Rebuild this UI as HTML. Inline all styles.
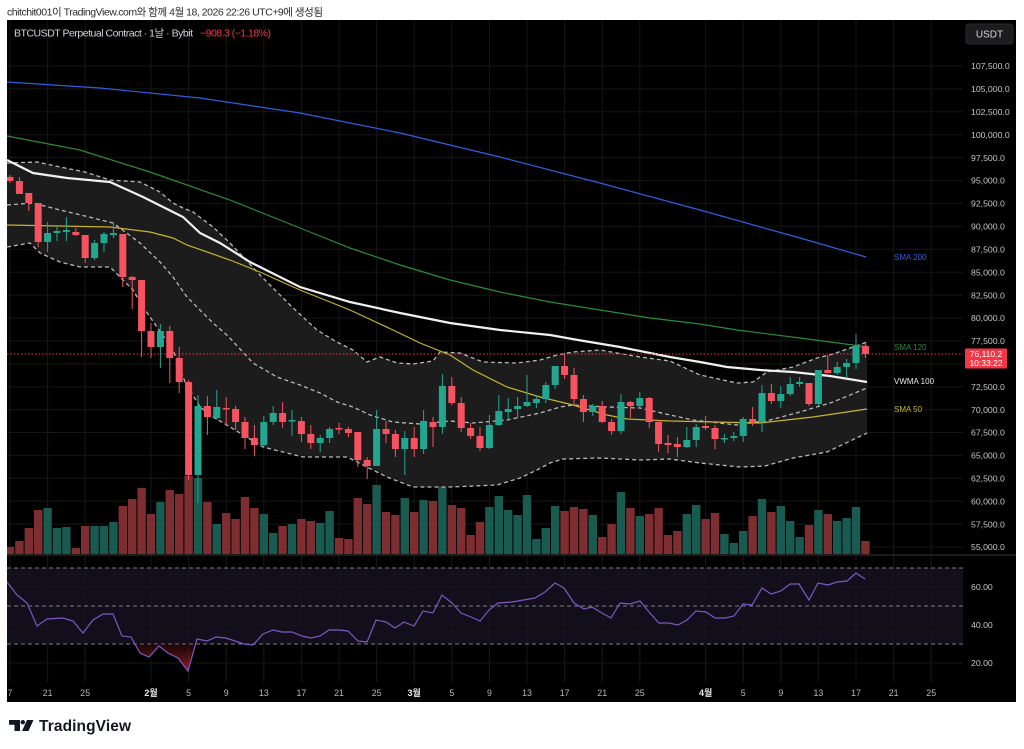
<!DOCTYPE html>
<html><head><meta charset="utf-8">
<style>
html,body{margin:0;padding:0;background:#fff;width:1024px;height:749px;overflow:hidden}
svg{display:block}
</style></head>
<body>
<svg width="1024" height="749" viewBox="0 0 1024 749" xmlns="http://www.w3.org/2000/svg" font-family="'Liberation Sans','Noto Sans CJK KR',sans-serif">
<defs>
<clipPath id="cm"><rect x="7" y="20" width="956" height="535"/></clipPath>
<clipPath id="cr"><rect x="7" y="556" width="956" height="126"/></clipPath>
<linearGradient id="rg" x1="0" y1="644" x2="0" y2="672" gradientUnits="userSpaceOnUse">
<stop offset="0" stop-color="#5a1414" stop-opacity="0.3"/><stop offset="1" stop-color="#b0202a" stop-opacity="0.9"/>
</linearGradient>
</defs>
<rect x="0" y="0" width="1024" height="749" fill="#fff"/>
<text x="7" y="15.5" font-size="10.5" fill="#2a2a2a" textLength="316">chitchit001이 TradingView.com와 함께 4월 18, 2026 22:26 UTC+9에 생성됨</text>

<rect x="7" y="20" width="1009" height="682" fill="#000"/>

<!-- grid -->
<g stroke="#161616" stroke-width="1">
<path d="M7 66H963M7 88.9H963M7 111.8H963M7 134.7H963M7 157.6H963M7 180.5H963M7 203.4H963M7 226.3H963M7 249.3H963M7 272.2H963M7 295.1H963M7 318H963M7 340.9H963M7 363.8H963M7 386.7H963M7 409.6H963M7 432.5H963M7 455.4H963M7 478.3H963M7 501.2H963M7 524.1H963M7 547H963"/>
<path d="M10 20V682M47.6 20V682M85.2 20V682M151 20V682M188.6 20V682M226.2 20V682M263.8 20V682M301.4 20V682M339 20V682M376.6 20V682M414.2 20V682M451.8 20V682M489.4 20V682M527 20V682M564.6 20V682M602.2 20V682M639.8 20V682M705.6 20V682M743.2 20V682M780.8 20V682M818.4 20V682M856 20V682M893.6 20V682M931.2 20V682"/>
</g>

<g clip-path="url(#cm)">
<!-- band fill -->
<polygon fill="#1c1c1c" points="7,163 37,162 60,167 85,172 110,180 140,182 160,192 173,203 183,208 193,212 213,227 230,243 260,275 290,305 317,330 335,341 353,350 367,362 380,357 397,363 413,364 433,361 440,352 460,353 483,362 517,363 540,360 557,355 573,352 600,350 617,353 640,357 670,361 700,375 737,383 753,382 767,372 793,367 817,358 833,354 853,347 867,342 867,433 827,452 793,458 765,466 740,467 700,463 670,459 640,460 600,458 563,459 550,463 537,470 520,478 497,485 450,487 413,487 387,477 367,467 347,457 303,457 263,447 230,427 213,417 200,407 185,382 173,350 150,317 143,307 133,290 110,267 80,267 60,262 40,253 30,243 7,247"/>

<!-- volume red -->
<g fill="#7e2e31">
<rect x="5.8" y="547" width="8.4" height="7"/><rect x="15.2" y="541" width="8.4" height="13"/><rect x="24.6" y="528" width="8.4" height="26"/><rect x="34" y="510" width="8.4" height="44"/><rect x="71.6" y="548" width="8.4" height="6"/><rect x="81" y="526" width="8.4" height="28"/><rect x="118.6" y="506" width="8.4" height="48"/><rect x="128" y="499" width="8.4" height="55"/><rect x="137.4" y="488" width="8.4" height="66"/><rect x="146.8" y="514" width="8.4" height="40"/><rect x="165.6" y="490" width="8.4" height="64"/><rect x="175" y="494" width="8.4" height="60"/><rect x="184.4" y="476" width="8.4" height="78"/><rect x="203.2" y="502" width="8.4" height="52"/><rect x="222" y="513" width="8.4" height="41"/><rect x="231.4" y="519" width="8.4" height="35"/><rect x="240.8" y="497" width="8.4" height="57"/><rect x="250.2" y="508" width="8.4" height="46"/><rect x="278.4" y="526" width="8.4" height="28"/><rect x="297.2" y="519" width="8.4" height="35"/><rect x="306.6" y="521" width="8.4" height="33"/><rect x="334.8" y="538" width="8.4" height="16"/><rect x="344.2" y="539" width="8.4" height="15"/><rect x="353.6" y="498" width="8.4" height="56"/><rect x="363" y="504" width="8.4" height="50"/><rect x="381.8" y="512" width="8.4" height="42"/><rect x="391.2" y="515" width="8.4" height="39"/><rect x="410" y="512" width="8.4" height="42"/><rect x="428.8" y="501" width="8.4" height="53"/><rect x="447.6" y="505" width="8.4" height="49"/><rect x="457" y="508" width="8.4" height="46"/><rect x="466.4" y="535" width="8.4" height="19"/><rect x="475.8" y="522" width="8.4" height="32"/><rect x="560.4" y="511" width="8.4" height="43"/><rect x="569.8" y="507" width="8.4" height="47"/><rect x="579.2" y="509" width="8.4" height="45"/><rect x="598" y="537" width="8.4" height="17"/><rect x="607.4" y="524" width="8.4" height="30"/><rect x="626.2" y="508" width="8.4" height="46"/><rect x="645" y="514" width="8.4" height="40"/><rect x="654.4" y="508" width="8.4" height="46"/><rect x="663.8" y="535" width="8.4" height="19"/><rect x="673.2" y="531" width="8.4" height="23"/><rect x="701.4" y="519" width="8.4" height="35"/><rect x="710.8" y="513" width="8.4" height="41"/><rect x="748.4" y="516" width="8.4" height="38"/><rect x="767.2" y="512" width="8.4" height="42"/><rect x="804.8" y="525" width="8.4" height="29"/><rect x="823.6" y="514" width="8.4" height="40"/><rect x="861.2" y="541" width="8.4" height="13"/>
</g>
<!-- volume green -->
<g fill="#195a51">
<rect x="43.4" y="508" width="8.4" height="46"/><rect x="52.8" y="528" width="8.4" height="26"/><rect x="62.2" y="527" width="8.4" height="27"/><rect x="90.4" y="526" width="8.4" height="28"/><rect x="99.8" y="526" width="8.4" height="28"/><rect x="109.2" y="522" width="8.4" height="32"/><rect x="156.2" y="502" width="8.4" height="52"/><rect x="193.8" y="478" width="8.4" height="76"/><rect x="212.6" y="524" width="8.4" height="30"/><rect x="259.6" y="514" width="8.4" height="40"/><rect x="269" y="533" width="8.4" height="21"/><rect x="287.8" y="524" width="8.4" height="30"/><rect x="316" y="523" width="8.4" height="31"/><rect x="325.4" y="511" width="8.4" height="43"/><rect x="372.4" y="485" width="8.4" height="69"/><rect x="400.6" y="498" width="8.4" height="56"/><rect x="419.4" y="500" width="8.4" height="54"/><rect x="438.2" y="487" width="8.4" height="67"/><rect x="485.2" y="507" width="8.4" height="47"/><rect x="494.6" y="496" width="8.4" height="58"/><rect x="504" y="510" width="8.4" height="44"/><rect x="513.4" y="515" width="8.4" height="39"/><rect x="522.8" y="495" width="8.4" height="59"/><rect x="532.2" y="539" width="8.4" height="15"/><rect x="541.6" y="528" width="8.4" height="26"/><rect x="551" y="506" width="8.4" height="48"/><rect x="588.6" y="515" width="8.4" height="39"/><rect x="616.8" y="492" width="8.4" height="62"/><rect x="635.6" y="516" width="8.4" height="38"/><rect x="682.6" y="514" width="8.4" height="40"/><rect x="692" y="505" width="8.4" height="49"/><rect x="720.2" y="534" width="8.4" height="20"/><rect x="729.6" y="543" width="8.4" height="11"/><rect x="739" y="531" width="8.4" height="23"/><rect x="757.8" y="499" width="8.4" height="55"/><rect x="776.6" y="506" width="8.4" height="48"/><rect x="786" y="521" width="8.4" height="33"/><rect x="795.4" y="537" width="8.4" height="17"/><rect x="814.2" y="510" width="8.4" height="44"/><rect x="833" y="521" width="8.4" height="33"/><rect x="842.4" y="518" width="8.4" height="36"/><rect x="851.8" y="507" width="8.4" height="47"/>
</g>

<!-- band dashed lines -->
<g fill="none" stroke="#b8b8b8" stroke-width="1.3" stroke-dasharray="4,3">
<polyline points="7,163 37,162 60,167 85,172 110,180 140,182 160,192 173,203 183,208 193,212 213,227 230,243 260,275 290,305 317,330 335,341 353,350 367,362 380,357 397,363 413,364 433,361 440,352 460,353 483,362 517,363 540,360 557,355 573,352 600,350 617,353 640,357 670,361 700,375 737,383 753,382 767,372 793,367 817,358 833,354 853,347 867,342"/>
<polyline points="7,205 33,203 60,210 85,216 113,223 140,243 160,262 173,277 187,297 200,310 213,323 228,336 253,363 277,377 300,385 320,393 337,402 353,407 370,415 393,422 420,424 450,421 473,423 507,420 540,413 560,407 573,405 607,407 640,408 670,415 693,420 737,425 770,420 800,412 833,402 867,388"/>
<polyline points="7,247 30,243 40,253 60,262 80,267 110,267 133,290 143,307 150,317 173,350 185,382 200,407 213,417 230,427 263,447 303,457 347,457 367,467 387,477 413,487 450,487 497,485 520,478 537,470 550,463 563,459 600,458 640,460 670,459 700,463 740,467 765,466 793,458 827,452 867,433"/>
</g>

<!-- MAs -->
<polyline fill="none" stroke="#2f5fe0" stroke-width="1.2" points="7,82 100,88 200,98 300,113 400,133 500,157 600,183 700,210 800,238 866,257"/>
<polyline fill="none" stroke="#2b8a34" stroke-width="1.2" points="7,136 80,150 150,172 230,200 300,228 350,248 400,265 450,280 500,292 550,302 600,310 650,318 700,324 737,330 800,338 853,345 867,347"/>
<polyline fill="none" stroke="#c8b42c" stroke-width="1.2" points="7,225 110,227 150,232 173,238 187,245 230,260 260,272 300,290 350,310 393,330 420,343 450,355 473,370 507,387 540,397 573,405 607,415 627,419 670,421 760,423 813,417 867,409"/>
<polyline fill="none" stroke="#f0f0f0" stroke-width="2.2" points="7,160 33,173 67,178 110,182 143,197 173,212 183,217 200,233 220,243 250,262 300,287 350,302 400,313 450,323 500,330 550,335 578,340 620,347 670,357 700,362 727,367 760,370 793,372 830,376 867,382"/>

<!-- current price line -->
<line x1="7" y1="354" x2="963" y2="354" stroke="#f23645" stroke-width="1" stroke-dasharray="1.5,2"/>

<!-- candles red -->
<path fill="none" stroke="#f7525f" stroke-width="1" d="M10 175V183M19.4 177V194M28.8 193V211M38.2 203V247M75.8 228V236M85.2 235V263M122.8 234V287M132.2 276V309M141.6 280V357M151 323V358M169.8 326V383M179.2 347V393M188.6 380V480M207.4 396V435M226.2 397V425M235.6 406V430M245 417V449M254.4 425V456M282.6 402V428M301.4 417V442M310.8 425V449M339 423V434M348.4 427V437M357.8 432V467M367.2 457V479M386 421V443M395.4 430V457M414.2 427V457M433 417V447M451.8 377V405M461.2 397V432M470.6 423V439M480 427V451M564.6 353V379M574 368V405M583.4 395V422M602.2 401V423M611.6 419V435M630.4 401V418M649.2 397V428M658.6 420V452M668 435V453M677.4 437V457M705.6 416V430M715 425V449M752.6 407V426M771.4 384V404M809 383V406M827.8 355V373M865.4 343V358"/>
<g fill="#f7525f">
<rect x="6.5" y="177" width="7" height="4"/><rect x="15.9" y="181" width="7" height="13"/><rect x="25.3" y="193" width="7" height="10"/><rect x="34.7" y="203" width="7" height="39"/><rect x="72.3" y="232" width="7" height="3"/><rect x="81.7" y="235" width="7" height="23"/><rect x="119.3" y="234" width="7" height="43"/><rect x="128.7" y="277" width="7" height="3"/><rect x="138.1" y="280" width="7" height="51"/><rect x="147.5" y="331" width="7" height="16"/><rect x="166.3" y="331" width="7" height="27"/><rect x="175.7" y="358" width="7" height="24"/><rect x="185.1" y="382" width="7" height="93"/><rect x="203.9" y="406" width="7" height="11"/><rect x="222.7" y="408" width="7" height="1.5"/><rect x="232.1" y="409" width="7" height="13"/><rect x="241.5" y="422" width="7" height="16"/><rect x="250.9" y="438" width="7" height="7"/><rect x="279.1" y="413" width="7" height="9"/><rect x="297.9" y="421" width="7" height="13"/><rect x="307.3" y="434" width="7" height="9"/><rect x="335.5" y="428" width="7" height="1.5"/><rect x="344.9" y="429" width="7" height="4"/><rect x="354.3" y="432" width="7" height="28"/><rect x="363.7" y="460" width="7" height="6"/><rect x="382.5" y="429" width="7" height="5"/><rect x="391.9" y="434" width="7" height="15"/><rect x="410.7" y="438" width="7" height="11"/><rect x="429.5" y="422" width="7" height="5"/><rect x="448.3" y="386" width="7" height="17"/><rect x="457.7" y="403" width="7" height="25"/><rect x="467.1" y="428" width="7" height="8"/><rect x="476.5" y="436" width="7" height="12"/><rect x="561.1" y="366" width="7" height="9"/><rect x="570.5" y="375" width="7" height="24"/><rect x="579.9" y="399" width="7" height="13"/><rect x="598.7" y="406" width="7" height="16"/><rect x="608.1" y="422" width="7" height="9"/><rect x="626.9" y="402" width="7" height="4"/><rect x="645.7" y="398" width="7" height="24"/><rect x="655.1" y="422" width="7" height="22"/><rect x="664.5" y="443" width="7" height="2"/><rect x="673.9" y="444" width="7" height="3"/><rect x="702.1" y="426" width="7" height="2"/><rect x="711.5" y="428" width="7" height="11"/><rect x="749.1" y="419" width="7" height="3"/><rect x="767.9" y="393" width="7" height="8"/><rect x="805.5" y="383" width="7" height="21"/><rect x="824.3" y="370" width="7" height="3"/><rect x="861.9" y="346" width="7" height="8"/>
</g>
<!-- candles green -->
<path fill="none" stroke="#22a68f" stroke-width="1" d="M47.6 222V252M57 225V241M66.4 217V241M94.6 240V260M104 232V252M113.4 222V238M160.4 324V368M198 395V503M216.8 390V420M263.8 416V447M273.2 406V425M292 410V436M320.2 435V452M329.6 427V443M376.6 410V466M404.8 431V475M423.6 410V454M442.4 374V434M489.4 415V449M498.8 395V426M508.2 398V420M517.6 397V418M527 375V407M536.4 395V408M545.8 382V403M555.2 366V389M592.8 404V416M621 394V434M639.8 392V407M686.8 427V448M696.2 424V447M724.4 434V443M733.8 432V441M743.2 417V442M762 385V432M780.8 386V408M790.2 377V396M799.6 377V387M818.4 370V406M837.2 362V375M846.6 359V377M856 334V369"/>
<g fill="#22a68f">
<rect x="44.1" y="233" width="7" height="9"/><rect x="53.5" y="231" width="7" height="2"/><rect x="62.9" y="230" width="7" height="2"/><rect x="91.1" y="243" width="7" height="15"/><rect x="100.5" y="234" width="7" height="9"/><rect x="109.9" y="233" width="7" height="2"/><rect x="156.9" y="331" width="7" height="16"/><rect x="194.5" y="406" width="7" height="69"/><rect x="213.3" y="407" width="7" height="11"/><rect x="260.3" y="422" width="7" height="23"/><rect x="269.7" y="413" width="7" height="9"/><rect x="288.5" y="420" width="7" height="1.5"/><rect x="316.7" y="438" width="7" height="5"/><rect x="326.1" y="429" width="7" height="9"/><rect x="373.1" y="429" width="7" height="37"/><rect x="401.3" y="438" width="7" height="11"/><rect x="420.1" y="421" width="7" height="28"/><rect x="438.9" y="386" width="7" height="41"/><rect x="485.9" y="425" width="7" height="23"/><rect x="495.3" y="411" width="7" height="14"/><rect x="504.7" y="409" width="7" height="3"/><rect x="514.1" y="406" width="7" height="3"/><rect x="523.5" y="402" width="7" height="4"/><rect x="532.9" y="399" width="7" height="4"/><rect x="542.3" y="385" width="7" height="14"/><rect x="551.7" y="366" width="7" height="19"/><rect x="589.3" y="406" width="7" height="6"/><rect x="617.5" y="402" width="7" height="29"/><rect x="636.3" y="398" width="7" height="8"/><rect x="683.3" y="440" width="7" height="7"/><rect x="692.7" y="427" width="7" height="13"/><rect x="720.9" y="438" width="7" height="1.5"/><rect x="730.3" y="436" width="7" height="2"/><rect x="739.7" y="419" width="7" height="17"/><rect x="758.5" y="393" width="7" height="29"/><rect x="777.3" y="394" width="7" height="7"/><rect x="786.7" y="384" width="7" height="10"/><rect x="796.1" y="382" width="7" height="2"/><rect x="814.9" y="370" width="7" height="34"/><rect x="833.7" y="367" width="7" height="6"/><rect x="843.1" y="363" width="7" height="4"/><rect x="852.5" y="346" width="7" height="17"/>
</g>
</g>

<!-- pane separator -->
<line x1="7" y1="555" x2="1016" y2="555" stroke="#2e2e2e" stroke-width="1.2"/>

<!-- RSI pane -->
<g clip-path="url(#cr)">
<rect x="7" y="568" width="956" height="76" fill="#120e1b"/>
<g stroke="#161616"><path d="M7 587H963M7 625H963M7 663H963"/></g>
<g stroke="#161616"><path d="M10 556V682M47.6 556V682M85.2 556V682M151 556V682M188.6 556V682M226.2 556V682M263.8 556V682M301.4 556V682M339 556V682M376.6 556V682M414.2 556V682M451.8 556V682M489.4 556V682M527 556V682M564.6 556V682M602.2 556V682M639.8 556V682M705.6 556V682M743.2 556V682M780.8 556V682M818.4 556V682M856 556V682M893.6 556V682M931.2 556V682"/></g>
<g stroke="#7a7c84" stroke-width="1" stroke-dasharray="4,3"><path d="M7 568H963M7 606H963M7 644H963"/></g>
<polygon fill="url(#rg)" points="135,644 140,653 149,657 159,646 168,653 178,658 188,671 195.6,644"/>
<polyline fill="none" stroke="#7e57c2" stroke-width="1.2" points="7,582 17,595 27,603 37,626 47,619 63,618 73,621 83,633 93,620 103,614 113,614 122,636 131,637 140,653 149,657 159,646 168,653 178,658 188,671 197,639 207,641 216,637 226,638 235,641 244,644 253,645 263,634 273,630 282,632 292,632 302,636 311,638 320,636 329,630 339,630 348,631 358,641 367,642 376,620 386,622 395,628 404,622 414,626 423,611 433,613 442,595 452,603 461,613 471,617 480,621 489,610 498,603 512,602 535,598 545,592 555,583 564,588 574,603 584,609 592,607 602,613 611,618 620,603 630,604 640,601 649,612 659,623 669,623 678,625 687,620 696,611 706,612 715,618 725,618 734,616 743,604 752,605 762,588 771,594 781,591 790,584 799,584 809,600 818,583 828,585 837,582 847,581 856,573 865,579"/>
</g>

<!-- title -->
<text x="14" y="36.5" font-size="10.5" fill="#d1d4dc" textLength="179">BTCUSDT Perpetual Contract · 1날 · Bybit</text>
<text x="200" y="36.5" font-size="10.5" fill="#f23645" textLength="71">−908.3 (−1.18%)</text>

<!-- USDT box -->
<rect x="966" y="24" width="47" height="20" rx="3" fill="#1c1c1e" stroke="#2a2a2c"/>
<text x="989.5" y="37.5" font-size="10" fill="#d8d8d8" text-anchor="middle">USDT</text>

<!-- price axis labels -->
<g font-size="8.7" fill="#c6c6c6">
<text x="971" y="69.2">107,500.0</text>
<text x="971" y="92.1">105,000.0</text>
<text x="971" y="115">102,500.0</text>
<text x="971" y="137.9">100,000.0</text>
<text x="971" y="160.8">97,500.0</text>
<text x="971" y="183.7">95,000.0</text>
<text x="971" y="206.6">92,500.0</text>
<text x="971" y="229.5">90,000.0</text>
<text x="971" y="252.5">87,500.0</text>
<text x="971" y="275.4">85,000.0</text>
<text x="971" y="298.3">82,500.0</text>
<text x="971" y="321.2">80,000.0</text>
<text x="971" y="344.1">77,500.0</text>
<text x="971" y="389.9">72,500.0</text>
<text x="971" y="412.8">70,000.0</text>
<text x="971" y="435.7">67,500.0</text>
<text x="971" y="458.6">65,000.0</text>
<text x="971" y="481.5">62,500.0</text>
<text x="971" y="504.4">60,000.0</text>
<text x="971" y="527.3">57,500.0</text>
<text x="971" y="550.2">55,000.0</text>
<text x="971" y="590.2">60.00</text>
<text x="971" y="628.2">40.00</text>
<text x="971" y="666.2">20.00</text>
</g>

<!-- price tag -->
<rect x="965" y="348.5" width="42" height="20" rx="1" fill="#f23645"/>
<g font-size="8.5" fill="#fff" text-anchor="middle">
<text x="986" y="356.8">76,110.2</text>
<text x="986" y="366">10:33:22</text>
</g>

<!-- indicator labels -->
<g font-size="8">
<text x="894" y="260" fill="#2f5fe0">SMA 200</text>
<text x="894" y="350" fill="#2b8a34">SMA 120</text>
<text x="894" y="384" fill="#e8e8e8">VWMA 100</text>
<text x="894" y="412" fill="#c8b42c">SMA 50</text>
</g>

<!-- time axis -->
<g font-size="8.8" fill="#b8b8b8" text-anchor="middle">
<text x="10" y="696">7</text>
<text x="47.6" y="696">21</text>
<text x="85.2" y="696">25</text>
<text x="188.6" y="696">5</text>
<text x="226.2" y="696">9</text>
<text x="263.8" y="696">13</text>
<text x="301.4" y="696">17</text>
<text x="339" y="696">21</text>
<text x="376.6" y="696">25</text>
<text x="451.8" y="696">5</text>
<text x="489.4" y="696">9</text>
<text x="527" y="696">13</text>
<text x="564.6" y="696">17</text>
<text x="602.2" y="696">21</text>
<text x="639.8" y="696">25</text>
<text x="743.2" y="696">5</text>
<text x="780.8" y="696">9</text>
<text x="818.4" y="696">13</text>
<text x="856" y="696">17</text>
<text x="893.6" y="696">21</text>
<text x="931.2" y="696">25</text>
</g>
<g font-size="9" fill="#e6e6e6" font-weight="bold" text-anchor="middle">
<text x="151" y="696">2월</text>
<text x="414.2" y="696">3월</text>
<text x="705.6" y="696">4월</text>
</g>

<!-- clip left edge cover -->
<rect x="0" y="20" width="7" height="682" fill="#fff"/>

<!-- logo -->
<g fill="#131722">
<path d="M9 720h11v11h-5.5v-6.3H9z"/>
<circle cx="22.8" cy="722.2" r="2.2"/>
<path d="M27 720h6.5l-5 11h-6.5z"/>
</g>
<text x="39" y="731" font-size="15.5" font-weight="bold" fill="#131722" textLength="92">TradingView</text>
</svg>
</body></html>
